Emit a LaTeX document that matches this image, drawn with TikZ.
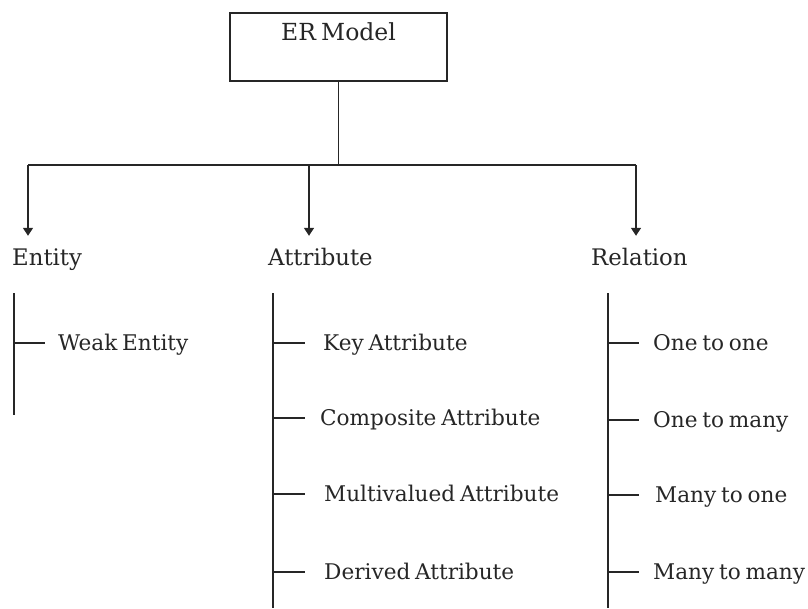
\documentclass[tikz,border=0pt]{standalone}
\usepackage{fontspec}
\setmainfont{DejaVu Serif}[WordSpace=0.7]
\usetikzlibrary{positioning,arrows.meta}
\definecolor{inkgray}{HTML}{262626}
\begin{document}
\begin{tikzpicture}[
    x=1pt, y=-1pt,
    box/.style={rectangle, draw=inkgray, line width=1.3pt, minimum width=217pt, minimum height=68pt, inner sep=0pt},
    title/.style={text=inkgray, font=\fontsize{23.5}{27}\selectfont, inner sep=0pt, text height=16pt, text depth=0pt},
    head/.style={title, anchor=west, font=\fontsize{22.8}{27}\selectfont},
    item/.style={title, anchor=west, font=\fontsize{21.6}{25}\selectfont, text height=15pt},
    line/.style={draw=inkgray, line width=1.5pt},
    arrow/.style={line, -{Triangle[width=10pt,length=8pt]}, shorten >=13pt}
]
    \useasboundingbox (0,0) rectangle (808,608);

    \node[box] (er) at (338.5,47) {};
    \node[title, below=12pt of er.north] (ertitle) {ER Model};

    \node[head] (entity) at (12,257) {Entity};
    \node[head] (attribute) at (268,257) {Attribute};
    \node[head] (relation) at (591,257) {Relation};

    \coordinate (split) at (338.5,165);
    \coordinate (lbar) at (28,165);
    \coordinate (mbar) at (309,165);
    \coordinate (rbar) at (636,165);

    \draw[line] (er.south) -- (split);
    \draw[line] (lbar) -- (rbar);
    \draw[arrow] (lbar) -- (lbar |- entity.north);
    \draw[arrow] (mbar) -- (mbar |- attribute.north);
    \draw[arrow] (rbar) -- (rbar |- relation.north);

    \node[item] (weak) at (58,343) {Weak Entity};

    \node[item] (key) at (323,343) {Key Attribute};
    \node[item] (composite) at (320,418) {Composite Attribute};
    \node[item] (multi) at (324,494) {Multivalued Attribute};
    \node[item] (derived) at (324,572) {Derived Attribute};

    \node[item] (oneone) at (653,343) {One to one};
    \node[item] (onemany) at (653,420) {One to many};
    \node[item] (manyone) at (655,495) {Many to one};
    \node[item] (manymany) at (653,572) {Many to many};

    \coordinate (enttop) at (14,293);
    \coordinate (entbot) at (14,415);
    \coordinate (attrtop) at (273,293);
    \coordinate (attrbot) at (273,608);
    \coordinate (reltop) at (608,293);
    \coordinate (relbot) at (608,608);

    \draw[line] (enttop) -- (entbot);
    \draw[line] (attrtop) -- (attrbot);
    \draw[line] (reltop) -- (relbot);

    \draw[line] (enttop |- weak.west) -- ++(31,0);

    \draw[line] (attrtop |- key.west) -- ++(32,0);
    \draw[line] (attrtop |- composite.west) -- ++(32,0);
    \draw[line] (attrtop |- multi.west) -- ++(32,0);
    \draw[line] (attrtop |- derived.west) -- ++(32,0);

    \draw[line] (reltop |- oneone.west) -- ++(31,0);
    \draw[line] (reltop |- onemany.west) -- ++(31,0);
    \draw[line] (reltop |- manyone.west) -- ++(31,0);
    \draw[line] (reltop |- manymany.west) -- ++(31,0);
\end{tikzpicture}
\end{document}
